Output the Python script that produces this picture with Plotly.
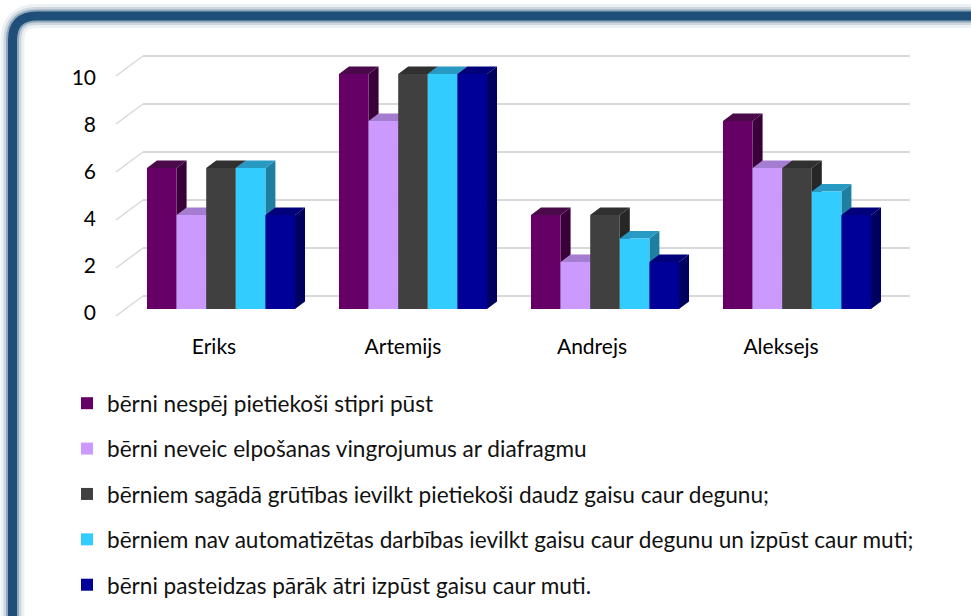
import plotly.graph_objects as go

# ---------------- data ----------------
children = ["Eriks", "Artemijs", "Andrejs", "Aleksejs"]
series_names = [
    "bērni nespēj pietiekoši stipri pūst",
    "bērni neveic elpošanas vingrojumus ar diafragmu",
    "bērniem sagādā grūtības ievilkt pietiekoši daudz gaisu caur degunu;",
    "bērniem nav automatizētas darbības ievilkt gaisu caur degunu un izpūst caur muti;",
    "bērni pasteidzas pārāk ātri izpūst gaisu caur muti.",
]
s1 = [6, 10, 4, 8]
s2 = [4, 8, 2, 6]
s3 = [6, 10, 4, 6]
s4 = [6, 10, 3, 5]
s5 = [4, 10, 2, 4]
series_values = [s1, s2, s3, s4, s5]
y_ticks = [0, 2, 4, 6, 8, 10]

front_colors = ["#660066", "#CC99FF", "#404040", "#33CCFF", "#000099"]
side_colors = ["#3A003A", "#9A70C8", "#262626", "#1F7FA3", "#00005E"]
top_colors = ["#4A0A4A", "#A47DD0", "#303030", "#2899C2", "#00007A"]

# ---------------- geometry (pixels) ----------------
W, H = 971, 616
X_LEFT, X_RIGHT = 143, 910          # back wall
PX_PER_CAT = 192
FIRST_CENTER = 221
BACK_Y0, BACK_PX = 296, 24.0        # back wall: value 0 at y=296, 24 px per unit
BAR_Y0, BAR_PX = 309, 23.5          # bars front faces
DEPTH_DX, DEPTH_DY = 10, 7.5        # bar extrusion
FLOOR_DX, FLOOR_DY = 27, 20         # wall depth
LAB_CENTER0, LAB_PX = 214, 189      # category labels
BARGAP = 0.229

x_range = [-(FIRST_CENTER - X_LEFT) / PX_PER_CAT, (X_RIGHT - FIRST_CENTER) / PX_PER_CAT]
x2_range = [-(LAB_CENTER0 - X_LEFT) / LAB_PX, (X_RIGHT - LAB_CENTER0) / LAB_PX]
yb_range = [-(H - BACK_Y0) / BACK_PX, BACK_Y0 / BACK_PX]
ybar_range = [-(H - BAR_Y0) / BAR_PX, BAR_Y0 / BAR_PX]

dx = DEPTH_DX / PX_PER_CAT
dy = DEPTH_DY / BAR_PX

fig = go.Figure()

n = len(series_values)
group_w = 1 - BARGAP
bw = group_w / n
xs = list(range(len(children)))

# extruded faces (sides and tops), drawn on a layer under the front faces
for k, vals in enumerate(series_values):
    sx, sy, tx, ty = [], [], [], []
    for i, v in enumerate(vals):
        xl = xs[i] - group_w / 2 + k * bw
        xr = xl + bw
        sx += [xr, xr + dx, xr + dx, xr, xr, None]
        sy += [0, dy, v + dy, v, 0, None]
        tx += [xl, xl + dx, xr + dx, xr, xl, None]
        ty += [v, v + dy, v + dy, v, v, None]
    fig.add_trace(go.Scatter(x=sx, y=sy, fill="toself", fillcolor=side_colors[k],
                             mode="lines", line=dict(width=0), hoverinfo="skip",
                             showlegend=False, xaxis="x", yaxis="y2"))
    fig.add_trace(go.Scatter(x=tx, y=ty, fill="toself", fillcolor=top_colors[k],
                             mode="lines", line=dict(width=0), hoverinfo="skip",
                             showlegend=False, xaxis="x", yaxis="y2"))

# front faces
for k, vals in enumerate(series_values):
    fig.add_trace(go.Bar(x=xs, y=vals, name=series_names[k], marker_color=front_colors[k],
                         marker_line_width=0, xaxis="x", yaxis="y3",
                         legendgroup=f"g{k}"))

# empty trace to carry the category-label axis
fig.add_trace(go.Scatter(x=[], y=[], xaxis="x2", yaxis="y3", showlegend=False, hoverinfo="skip"))

FONT = "Lato"


def px_path(pts_str):
    res = []
    ci = 0
    for tok in pts_str.split():
        if tok.isalpha():
            res.append(tok)
            ci = 0
        else:
            val = float(tok)
            res.append(f"{val / W:.5f}" if ci % 2 == 0 else f"{1 - val / H:.5f}")
            ci += 1
    return " ".join(res)


shapes = []
frame_path = px_path("M 12.5 660 L 12.5 40 Q 12.5 16 37 16 L 1010 16")
for wdt, col in [(24, "rgba(31,78,121,0.08)"), (18, "rgba(31,78,121,0.16)"),
                 (13, "rgba(31,78,121,0.35)"), (9, "#1F4E79")]:
    shapes.append(dict(type="path", path=frame_path, xref="paper", yref="paper",
                       line=dict(color=col, width=wdt), layer="above"))

# diagonals from front plane to back wall
for t in y_ticks:
    shapes.append(dict(type="line", xref="paper", yref="y",
                       x0=(X_LEFT - FLOOR_DX) / W, x1=X_LEFT / W,
                       ysizemode="pixel", yanchor=t, y0=-FLOOR_DY, y1=0,
                       line=dict(color="#D9D9D9", width=1.5), layer="below"))

fig.update_layout(
    width=W, height=H,
    margin=dict(l=0, r=0, t=0, b=0),
    paper_bgcolor="white", plot_bgcolor="rgba(0,0,0,0)",
    barmode="group", bargap=BARGAP, bargroupgap=0,
    font=dict(family=FONT, color="#000000"),
    xaxis=dict(domain=[X_LEFT / W, X_RIGHT / W], range=x_range, showgrid=False,
               zeroline=False, showticklabels=False, showline=False, fixedrange=True),
    xaxis2=dict(overlaying="x", range=x2_range, anchor="free", position=1 - 332 / H,
                tickvals=xs, ticktext=children, showgrid=False, zeroline=False,
                showline=False, ticks="", tickfont=dict(size=21, family=FONT, color="#000")),
    yaxis=dict(domain=[0, 1], range=yb_range, tickvals=y_ticks, showticklabels=False,
               showgrid=True, gridcolor="#D9D9D9", gridwidth=1.5, zeroline=False,
               showline=False),
    yaxis2=dict(overlaying="y", range=ybar_range, showgrid=False, zeroline=False,
                showticklabels=False, showline=False),
    yaxis3=dict(overlaying="y", range=ybar_range, showgrid=False, zeroline=False,
                showline=False, anchor="free", position=(X_LEFT - FLOOR_DX) / W,
                side="left", tickvals=y_ticks, ticks="", ticklabelstandoff=20,
                ticklabelshift=4, tickfont=dict(size=21, family=FONT, color="#000")),
    legend=dict(x=67 / W, xanchor="left", y=1 - 382 / H, yanchor="top",
                font=dict(size=22.6, family=FONT, color="#111"),
                tracegroupgap=13, bgcolor="rgba(0,0,0,0)", traceorder="grouped"),
    showlegend=True,
    shapes=shapes,
)

fig.write_html("out.html", config={"displayModeBar": False},
               post_script="document.body.style.margin='0';document.body.style.overflow='hidden';")
